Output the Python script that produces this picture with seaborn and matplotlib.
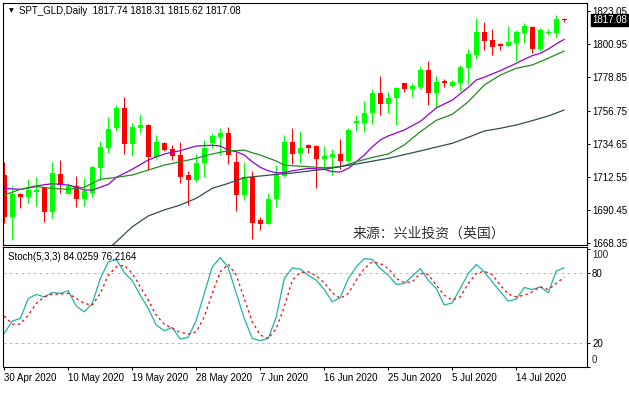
import numpy as np
import pandas as pd
import matplotlib
matplotlib.use("Agg")
import matplotlib.pyplot as plt
import seaborn as sns

# daily candles, bar 0 = 30 Apr 2020
opens = [1713.8, 1686.0, 1701.1, 1699.3, 1702.7, 1704.9, 1689.3, 1714.2, 1701.1, 1706.5,
         1697.8, 1702.0, 1718.6, 1732.0, 1745.3, 1758.2, 1734.4, 1745.3, 1747.0, 1726.0,
         1735.1, 1731.1, 1727.1, 1713.6, 1710.4, 1721.6, 1735.3, 1739.3, 1741.6, 1722.6,
         1700.4, 1712.6, 1683.8, 1681.1, 1697.8, 1713.1, 1736.0, 1728.2, 1733.8, 1733.1,
         1724.2, 1725.9, 1727.8, 1723.1, 1748.4, 1748.6, 1755.3, 1768.6, 1761.1, 1764.9,
         1774.9, 1771.0, 1772.6, 1783.7, 1768.2, 1776.4, 1773.3, 1775.3, 1785.3, 1793.7,
         1809.0, 1803.7, 1800.8, 1799.7, 1801.9, 1808.6, 1812.2, 1797.7, 1808.2, 1808.6,
         1817.74]
highs = [1722.6, 1706.5, 1701.5, 1711.1, 1712.4, 1706.0, 1722.6, 1723.8, 1708.2, 1713.1,
         1712.0, 1719.8, 1736.4, 1752.6, 1760.4, 1765.9, 1748.6, 1754.4, 1747.5, 1740.4,
         1735.8, 1733.8, 1735.8, 1716.4, 1727.8, 1737.1, 1741.6, 1744.9, 1746.0, 1729.3,
         1722.6, 1716.6, 1686.0, 1701.6, 1720.4, 1740.4, 1745.3, 1743.3, 1734.5, 1733.5,
         1733.1, 1731.3, 1737.8, 1745.1, 1753.5, 1763.1, 1770.9, 1779.7, 1769.3, 1772.6,
         1774.9, 1775.3, 1786.6, 1789.7, 1779.7, 1777.7, 1777.0, 1787.0, 1797.7, 1818.6,
         1815.7, 1811.1, 1801.9, 1813.1, 1810.4, 1814.9, 1813.1, 1811.5, 1810.9, 1820.4,
         1818.31]
lows = [1681.6, 1670.5, 1692.0, 1695.3, 1693.3, 1682.7, 1684.9, 1702.0, 1701.0, 1692.6,
        1693.0, 1699.3, 1710.4, 1728.6, 1743.3, 1727.8, 1726.4, 1742.0, 1717.1, 1724.4,
        1729.6, 1723.8, 1708.6, 1693.8, 1709.3, 1712.6, 1731.6, 1727.1, 1721.1, 1690.0,
        1697.1, 1671.1, 1677.1, 1681.0, 1692.6, 1712.6, 1721.1, 1722.0, 1728.2, 1704.9,
        1717.6, 1713.6, 1717.8, 1722.7, 1743.1, 1742.6, 1747.8, 1753.8, 1755.3, 1747.0,
        1769.3, 1765.9, 1771.0, 1760.4, 1759.3, 1772.2, 1772.2, 1769.9, 1774.4, 1791.0,
        1797.0, 1793.7, 1797.0, 1799.5, 1789.7, 1801.9, 1794.9, 1796.6, 1806.9, 1805.5,
        1815.62]
closes = [1686.0, 1701.1, 1699.3, 1703.8, 1703.9, 1689.3, 1714.9, 1707.1, 1706.5, 1697.8,
          1703.1, 1718.9, 1732.2, 1744.2, 1758.2, 1734.4, 1745.5, 1747.0, 1726.0, 1735.8,
          1730.6, 1726.4, 1712.6, 1710.4, 1721.6, 1731.6, 1739.8, 1741.6, 1727.1, 1700.4,
          1712.2, 1682.0, 1681.1, 1697.8, 1713.8, 1736.0, 1727.8, 1732.0, 1732.0, 1724.2,
          1726.4, 1727.8, 1723.1, 1743.8, 1749.5, 1755.3, 1768.6, 1761.1, 1764.9, 1771.5,
          1771.0, 1773.0, 1783.7, 1768.2, 1775.7, 1774.9, 1775.7, 1785.5, 1794.4, 1809.0,
          1803.0, 1799.3, 1799.7, 1802.6, 1809.0, 1813.1, 1797.7, 1810.4, 1809.0, 1817.7,
          1817.08]

# moving averages at these bars
purple_idx = [0, 2, 4, 6, 8, 9, 10, 11, 12, 13, 14, 16, 18, 20, 22, 24, 26, 27, 28, 29,
              30, 31, 32, 33, 34, 35, 36, 38, 40, 41, 42, 43, 44, 45, 46, 47, 48, 50, 52, 54,
              56, 58, 59, 60, 62, 64, 65, 66, 67, 68, 69, 70]
purple_val = [1704.9, 1704.2, 1706.5, 1708.0, 1707.1, 1705.6, 1703.8, 1703.8, 1705.6, 1707.6,
              1712.2, 1717.6, 1723.8, 1727.8, 1730.0, 1733.1, 1733.6, 1733.1, 1730.4, 1729.3,
              1727.1, 1722.6, 1718.9, 1716.6, 1715.3, 1715.3, 1716.6, 1718.2, 1717.6, 1716.0,
              1715.8, 1718.2, 1722.6, 1727.1, 1732.6, 1737.1, 1739.8, 1743.8, 1749.5, 1758.5,
              1763.7, 1772.2, 1777.1, 1778.9, 1783.3, 1788.2, 1790.9, 1793.3, 1794.9, 1797.7,
              1801.1, 1804.2]
green_idx = [0, 2, 4, 6, 8, 10, 12, 14, 16, 18, 20, 22, 24, 26, 28, 29, 30, 31, 32, 34,
             35, 36, 38, 40, 42, 43, 44, 46, 48, 50, 52, 54, 56, 58, 60, 62, 64, 66, 68, 70]
green_val = [1700.4, 1704.2, 1706.0, 1704.9, 1704.2, 1705.6, 1710.9, 1712.2, 1713.8, 1717.1,
             1720.4, 1722.6, 1724.9, 1727.8, 1730.0, 1730.0, 1730.4, 1728.6, 1727.1, 1723.1,
             1720.4, 1720.0, 1719.3, 1718.6, 1719.3, 1720.9, 1722.6, 1725.5, 1727.8, 1733.8,
             1742.6, 1750.2, 1754.2, 1762.6, 1773.7, 1780.4, 1784.9, 1787.1, 1791.6, 1796.4]
dark_idx = [12, 14, 16, 18, 20, 22, 24, 26, 28, 30, 32, 34, 36, 40, 44, 48, 52, 54, 56, 58,
            60, 62, 64, 66, 68, 70]
dark_val = [1660.0, 1669.3, 1679.3, 1686.5, 1690.5, 1693.8, 1698.3, 1704.9, 1708.2, 1712.0,
            1713.1, 1714.2, 1715.1, 1717.6, 1721.1, 1724.9, 1729.8, 1732.4, 1734.9, 1738.9,
            1743.1, 1744.9, 1747.1, 1750.0, 1753.1, 1757.1]

# Stoch(5,3,3)
stoch_k = [28.5, 38.9, 41.1, 58.0, 61.4, 59.4, 63.1, 62.3, 64.5, 51.5,
           46.8, 53.8, 74.9, 89.0, 91.0, 80.0, 73.0, 60.8, 49.6, 35.5,
           30.7, 33.5, 23.7, 25.1, 39.7, 62.3, 84.8, 92.7, 84.2, 62.3,
           41.1, 24.2, 22.3, 24.2, 42.5, 74.9, 83.9, 82.8, 77.7, 73.5,
           65.6, 55.2, 58.9, 74.9, 84.8, 91.8, 91.0, 83.4, 77.7, 69.9,
           70.7, 76.9, 83.4, 73.5, 66.5, 52.4, 54.4, 66.5, 79.2, 86.8,
           80.6, 72.1, 63.7, 55.8, 57.5, 67.3, 65.6, 67.9, 62.8, 81.4,
           84.03]
stoch_d = [43.1, 36.3, 36.3, 43.9, 53.8, 59.4, 61.7, 61.7, 62.3, 58.0,
           53.8, 52.4, 62.3, 77.7, 84.8, 86.2, 79.2, 67.9, 56.6, 43.9,
           36.3, 32.7, 29.3, 27.9, 29.9, 42.5, 62.3, 80.6, 87.0, 77.7,
           58.0, 38.3, 27.0, 24.2, 32.7, 51.0, 73.5, 80.0, 80.6, 77.2,
           71.3, 62.8, 58.0, 62.3, 73.5, 83.4, 89.0, 87.6, 83.4, 74.9,
           71.5, 72.1, 79.2, 78.3, 69.3, 60.8, 56.6, 59.4, 70.7, 79.2,
           81.1, 78.3, 69.3, 61.7, 59.4, 60.8, 63.7, 67.9, 65.6, 70.7,
           76.22]

price_ticks = [1823.05, 1800.95, 1778.85, 1756.75, 1734.65, 1712.55, 1690.45, 1668.35]
date_pos = [0, 8, 16, 24, 32, 40, 48, 56, 64]
date_labels = ["30 Apr 2020", "10 May 2020", "19 May 2020", "28 May 2020", "7 Jun 2020",
               "16 Jun 2020", "25 Jun 2020", "5 Jul 2020", "14 Jul 2020"]

sns.set_theme(style="white")
plt.rcParams["font.family"] = ["Liberation Sans", "DejaVu Sans"]
plt.rcParams["axes.linewidth"] = 0.8
plt.rcParams["axes.edgecolor"] = "black"

df = pd.DataFrame({"open": opens, "high": highs, "low": lows, "close": closes})
df["bar"] = np.arange(len(df))
df["up"] = df["close"] >= df["open"]
df["color"] = np.where(df["up"], "#00FF00", "#FF0000")

W, H = 629, 395
fig = plt.figure(figsize=(W / 100, H / 100), dpi=100)
ax = fig.add_axes([3 / W, 1 - 245 / H, 584 / W, 242 / H])
ax2 = fig.add_axes([3 / W, 1 - 367 / H, 584 / W, 120 / H])
px = 0.72  # one pixel in points

xlim = (-0.16, 72.84)

# candles
ax.vlines(df["bar"], df["low"], df["high"], colors=df["color"], linewidth=px)
body = (df["close"] - df["open"]).abs().clip(lower=0.7)
ax.bar(df["bar"], body, bottom=df[["open", "close"]].min(axis=1), width=0.63,
       color=df["color"], linewidth=0)

sns.lineplot(x=purple_idx, y=purple_val, ax=ax, color="#9400D3", linewidth=0.9)
sns.lineplot(x=green_idx, y=green_val, ax=ax, color="#228B22", linewidth=0.9)
sns.lineplot(x=dark_idx, y=dark_val, ax=ax, color="#2F4F4F", linewidth=0.9)

ax.set_xlim(xlim)
ax.set_ylim(1667.15, 1828.38)
ax.set_xticks([])
ax.yaxis.tick_right()
ax.set_yticks(price_ticks)
ax.set_yticklabels([f"{t:.2f}" for t in price_ticks])
ax.tick_params(axis="y", right=True, length=3 * px, width=px, pad=1.5, labelsize=7,
               colors="black")
ax.set_ylabel("")

last = closes[-1]
ax.annotate(f"{last:.2f}", xy=(1, last), xycoords=("axes fraction", "data"),
            xytext=(3.5, 0), textcoords="offset points", va="center", ha="left",
            fontsize=7, color="white",
            bbox=dict(boxstyle="square,pad=0.12", fc="black", ec="black"))

ax.text(8 / 584, 1 - 7.5 / 242, "\u25bc", transform=ax.transAxes, fontsize=4.5,
        va="center", ha="center", family="DejaVu Sans", color="black")
ax.text(16 / 584, 1 - 7.5 / 242, "SPT_GLD,Daily  1817.74 1818.31 1815.62 1817.08",
        transform=ax.transAxes, fontsize=7, va="center", ha="left", color="black")
ax.text(0.73, 11 / 242, "来源：兴业投资（英国）", transform=ax.transAxes,
        fontsize=10, va="center", ha="center", color="#333333",
        family=["Noto Sans CJK SC", "DejaVu Sans"])

# stochastic panel
bars = np.arange(len(stoch_k))
for lvl in (80, 20):
    ax2.axhline(lvl, color="#C0C0C0", linewidth=px, linestyle=(0, (3, 3)))
sns.lineplot(x=bars, y=stoch_k, ax=ax2, color="#20B2AA", linewidth=0.9)
sns.lineplot(x=bars, y=stoch_d, ax=ax2, color="#FF0000", linewidth=0.9,
             linestyle=(0, (2, 2.5)))
ax2.set_xlim(xlim)
ax2.set_ylim(0, 101.6)
ax2.yaxis.tick_right()
ax2.set_yticks([0, 20, 80, 100])
ax2.set_yticklabels(["", "20", "80", ""])
ax2.tick_params(axis="y", right=True, length=3 * px, width=px, pad=1.5, labelsize=7,
                colors="black")
ax2.annotate("100", xy=(1, 100), xycoords=("axes fraction", "data"),
             xytext=(3 * px + 1.5, -6 * px), textcoords="offset points",
             va="center", ha="left", fontsize=7)
ax2.annotate("0", xy=(1, 0), xycoords=("axes fraction", "data"),
             xytext=(3 * px + 1.5, 7 * px), textcoords="offset points",
             va="center", ha="left", fontsize=7)
ax2.set_xticks(date_pos)
ax2.set_xticklabels(date_labels, ha="left")
ax2.tick_params(axis="x", bottom=True, length=3 * px, width=px, pad=2, labelsize=7,
                colors="black")
ax2.set_ylabel("")
ax2.text(5 / 584, 1 - 9.5 / 120, "Stoch(5,3,3) 84.0259 76.2164", transform=ax2.transAxes,
         fontsize=7, va="center", ha="left", color="black")

for a in (ax, ax2):
    for s in a.spines.values():
        s.set_color("black")
        s.set_linewidth(0.8)

fig.savefig("out.png", dpi=100, facecolor="white")
